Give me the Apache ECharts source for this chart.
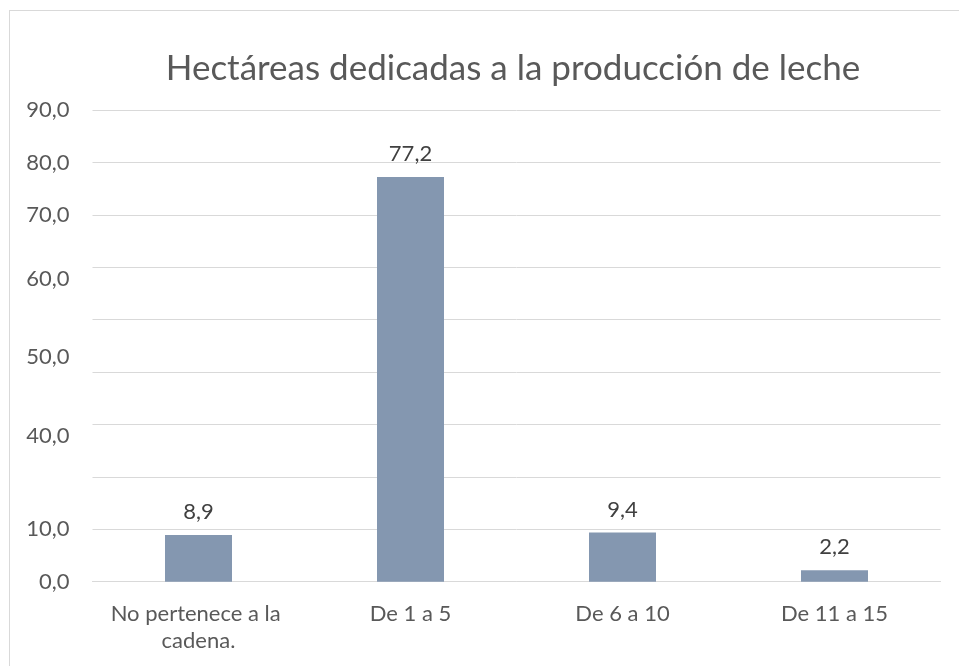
<!DOCTYPE html>
<html>
<head>
<meta charset="utf-8">
<title>Hectáreas dedicadas a la producción de leche</title>
<script src="https://cdn.jsdelivr.net/npm/echarts@6/dist/echarts.min.js"></script>
<style>
  html, body { margin: 0; padding: 0; background: #fff; overflow: hidden; }
  #frame {
    position: absolute; left: 9px; top: 10px; width: 2000px; height: 2000px;
    border-left: 1px solid #d9d9d9; border-top: 1px solid #d9d9d9;
    pointer-events: none;
  }
  #main { position: absolute; left: 0; top: 0; width: 959px; height: 666px; }
</style>
</head>
<body>
<div id="main"></div>
<div id="frame"></div>
<script>
// datos del gráfico
var categorias = ['No pertenece a la cadena.', 'De 1 a 5', 'De 6 a 10', 'De 11 a 15']
var valores = [8.9, 77.2, 9.4, 2.2]

// etiquetas del eje y tal como aparecen (algunas desplazadas en el original)
var etiquetasY = ['0,0', '10,0', '40,0', '50,0', '60,0', '70,0', '80,0', '90,0']
var posicionesY = [0, 10, 27.8, 42.8, 57.8, 70, 80, 90]

var gris = '#595959'
var fuente = 'Lato, "Noto Sans", sans-serif'

var myChart = echarts.init(document.getElementById('main'))

var option = {
  animation: false,
  backgroundColor: 'transparent',
  title: {
    text: 'Hectáreas dedicadas a la producción de leche',
    left: 513,
    top: 51,
    padding: 0,
    textAlign: 'center',
    textStyle: {
      color: gris,
      fontFamily: fuente,
      fontWeight: 'normal',
      fontSize: 35
    }
  },
  grid: {
    left: 92.5,
    right: 18.5,
    top: 110,
    bottom: 84.3
  },
  xAxis: {
    type: 'category',
    data: categorias,
    axisLine: { lineStyle: { color: '#d9d9d9', width: 1 } },
    axisTick: { show: false },
    axisLabel: {
      color: gris,
      fontFamily: fuente,
      fontSize: 22,
      lineHeight: 27,
      margin: 19,
      interval: 0,
      width: 205,
      overflow: 'break'
    }
  },
  yAxis: {
    type: 'value',
    min: 0,
    max: 90,
    interval: 10,
    axisLine: { show: false },
    axisTick: { show: false },
    splitLine: { lineStyle: { color: '#d9d9d9', width: 1 } },
    axisLabel: {
      customValues: posicionesY,
      color: gris,
      fontFamily: fuente,
      fontSize: 22,
      margin: 23,
      formatter: function (value) {
        var i = posicionesY.indexOf(value)
        return i >= 0 ? etiquetasY[i] : ''
      }
    }
  },
  series: [
    {
      type: 'bar',
      data: valores,
      barWidth: '31.6%',
      itemStyle: { color: '#8497b0' },
      label: {
        show: true,
        position: 'top',
        distance: 12,
        color: '#404040',
        fontFamily: fuente,
        fontSize: 22,
        formatter: function (p) {
          return p.value.toFixed(1).replace('.', ',')
        }
      }
    }
  ]
}

myChart.setOption(option)
</script>
</body>
</html>
